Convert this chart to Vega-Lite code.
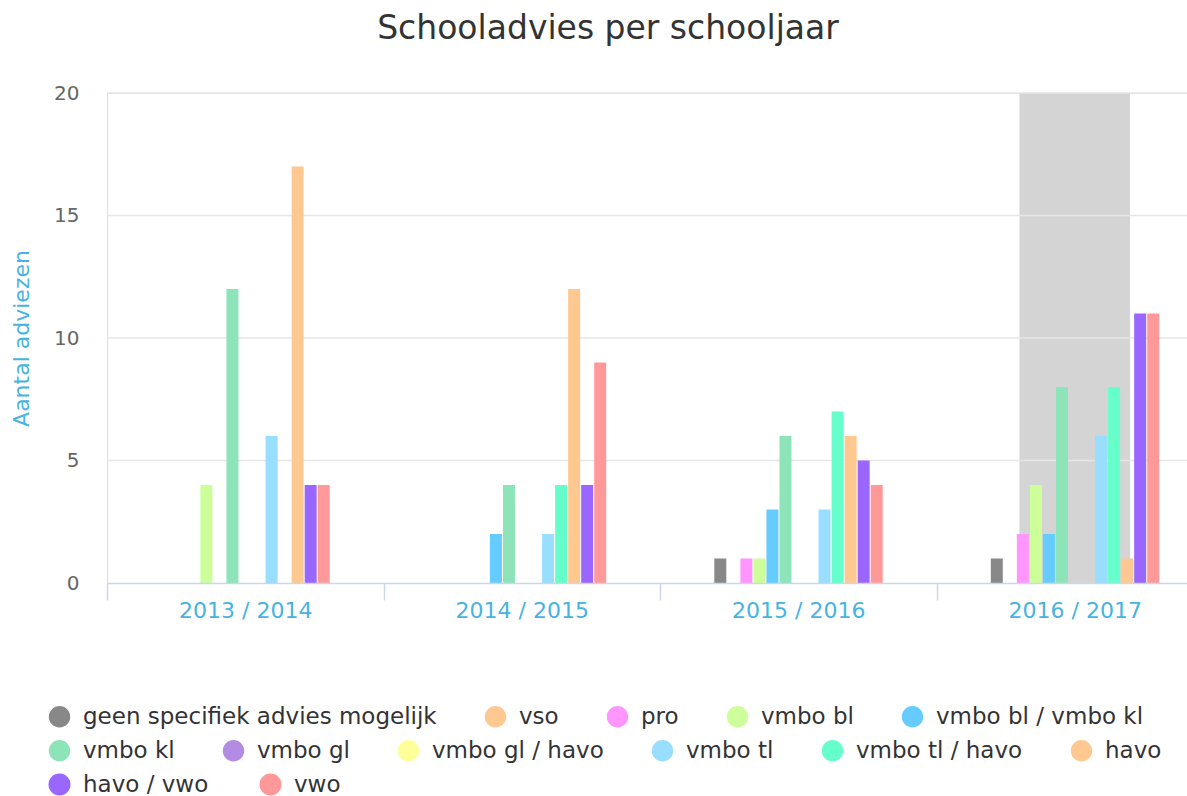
{
  "$schema": "https://vega.github.io/schema/vega-lite/v6.json",
  "autosize": "none",
  "width": 1080,
  "height": 490,
  "padding": {"left": 107, "top": 93, "right": 0, "bottom": 213},
  "background": "white",
  "config": {
    "legend": {
      "orient": "none",
      "direction": "horizontal",
      "title": null,
      "symbolType": "circle",
      "symbolSize": 460,
      "symbolStrokeWidth": 0,
      "labelFont": "DejaVu Sans",
      "labelFontSize": 23,
      "labelColor": "#333333",
      "labelOffset": 12,
      "labelLimit": 600,
      "columnPadding": 47
    }
  },
  "title": {
    "text": "Schooladvies per schooljaar",
    "font": "DejaVu Sans",
    "fontSize": 33,
    "fontWeight": "normal",
    "color": "#333333",
    "anchor": "middle",
    "offset": 37,
    "dx": -39
  },
  "datasets": {
    "band": [{"schooljaar": "2016 / 2017", "aantal": 0, "tot": 20}],
    "grid": [{"aantal": 5}, {"aantal": 10}, {"aantal": 15}, {"aantal": 20}],
    "advies": [
      {"schooljaar": "2013 / 2014", "advies": "vmbo bl", "aantal": 4},
      {"schooljaar": "2013 / 2014", "advies": "vmbo kl", "aantal": 12},
      {"schooljaar": "2013 / 2014", "advies": "vmbo tl", "aantal": 6},
      {"schooljaar": "2013 / 2014", "advies": "havo", "aantal": 17},
      {"schooljaar": "2013 / 2014", "advies": "havo / vwo", "aantal": 4},
      {"schooljaar": "2013 / 2014", "advies": "vwo", "aantal": 4},
      {"schooljaar": "2014 / 2015", "advies": "vmbo bl / vmbo kl", "aantal": 2},
      {"schooljaar": "2014 / 2015", "advies": "vmbo kl", "aantal": 4},
      {"schooljaar": "2014 / 2015", "advies": "vmbo tl", "aantal": 2},
      {"schooljaar": "2014 / 2015", "advies": "vmbo tl / havo", "aantal": 4},
      {"schooljaar": "2014 / 2015", "advies": "havo", "aantal": 12},
      {"schooljaar": "2014 / 2015", "advies": "havo / vwo", "aantal": 4},
      {"schooljaar": "2014 / 2015", "advies": "vwo", "aantal": 9},
      {"schooljaar": "2015 / 2016", "advies": "geen specifiek advies mogelijk", "aantal": 1},
      {"schooljaar": "2015 / 2016", "advies": "pro", "aantal": 1},
      {"schooljaar": "2015 / 2016", "advies": "vmbo bl", "aantal": 1},
      {"schooljaar": "2015 / 2016", "advies": "vmbo bl / vmbo kl", "aantal": 3},
      {"schooljaar": "2015 / 2016", "advies": "vmbo kl", "aantal": 6},
      {"schooljaar": "2015 / 2016", "advies": "vmbo tl", "aantal": 3},
      {"schooljaar": "2015 / 2016", "advies": "vmbo tl / havo", "aantal": 7},
      {"schooljaar": "2015 / 2016", "advies": "havo", "aantal": 6},
      {"schooljaar": "2015 / 2016", "advies": "havo / vwo", "aantal": 5},
      {"schooljaar": "2015 / 2016", "advies": "vwo", "aantal": 4},
      {"schooljaar": "2016 / 2017", "advies": "geen specifiek advies mogelijk", "aantal": 1},
      {"schooljaar": "2016 / 2017", "advies": "pro", "aantal": 2},
      {"schooljaar": "2016 / 2017", "advies": "vmbo bl", "aantal": 4},
      {"schooljaar": "2016 / 2017", "advies": "vmbo bl / vmbo kl", "aantal": 2},
      {"schooljaar": "2016 / 2017", "advies": "vmbo kl", "aantal": 8},
      {"schooljaar": "2016 / 2017", "advies": "vmbo tl", "aantal": 6},
      {"schooljaar": "2016 / 2017", "advies": "vmbo tl / havo", "aantal": 8},
      {"schooljaar": "2016 / 2017", "advies": "havo", "aantal": 1},
      {"schooljaar": "2016 / 2017", "advies": "havo / vwo", "aantal": 11},
      {"schooljaar": "2016 / 2017", "advies": "vwo", "aantal": 11}
    ]
  },
  "encoding": {
    "y": {
      "field": "aantal",
      "type": "quantitative",
      "stack": null,
      "scale": {"domain": [0, 20], "nice": false},
      "axis": {
        "values": [0, 5, 10, 15, 20],
        "grid": false,
        "domain": false,
        "ticks": false,
        "labelColor": "#666666",
        "labelFont": "DejaVu Sans",
        "labelFontSize": 20,
        "labelPadding": 28,
        "title": "Aantal adviezen",
        "titleColor": "#47b3e0",
        "titleFont": "DejaVu Sans",
        "titleFontSize": 22,
        "titleFontWeight": "normal",
        "titlePadding": 20
      }
    }
  },
  "layer": [
    {
      "data": {"name": "band"},
      "mark": {"type": "bar", "color": "#d4d4d4", "width": {"band": 0.4}},
      "encoding": {
        "x": {
          "field": "schooljaar",
          "type": "nominal",
          "scale": {"domain": ["2013 / 2014", "2014 / 2015", "2015 / 2016", "2016 / 2017"], "paddingInner": 0, "paddingOuter": 0, "range": [0, 1106]},
          "axis": {
            "title": null,
            "labelAngle": 0,
            "labelColor": "#47b3e0",
            "labelFont": "DejaVu Sans",
            "labelFontSize": 22,
            "labelPadding": 0,
            "domainColor": "#ccd6eb",
            "domainWidth": 1.5,
            "tickColor": "#ccd6eb",
            "tickWidth": 1.5,
            "tickSize": 17,
            "tickBand": "extent",
            "zindex": 1
          }
        },
        "y2": {"field": "tot"}
      }
    },
    {
      "data": {"name": "grid"},
      "mark": {"type": "rule", "color": "#e6e6e6", "strokeWidth": 1.5},
      "encoding": {}
    },
    {
      "data": {"name": "advies"},
      "mark": {"type": "bar"},
      "encoding": {
        "x": {
          "field": "schooljaar",
          "type": "nominal",
          "scale": {"domain": ["2013 / 2014", "2014 / 2015", "2015 / 2016", "2016 / 2017"], "paddingInner": 0, "paddingOuter": 0, "range": [0, 1106]},
          "axis": {
            "title": null,
            "labelAngle": 0,
            "labelColor": "#47b3e0",
            "labelFont": "DejaVu Sans",
            "labelFontSize": 22,
            "labelPadding": 0,
            "domainColor": "#ccd6eb",
            "domainWidth": 1.5,
            "tickColor": "#ccd6eb",
            "tickWidth": 1.5,
            "tickSize": 17,
            "tickBand": "extent",
            "zindex": 1
          }
        },
        "xOffset": {
          "field": "advies",
          "type": "nominal",
          "scale": {
            "domain": ["geen specifiek advies mogelijk", "vso", "pro", "vmbo bl", "vmbo bl / vmbo kl", "vmbo kl", "vmbo gl", "vmbo gl / havo", "vmbo tl", "vmbo tl / havo", "havo", "havo / vwo", "vwo"],
            "paddingInner": 0.08,
            "paddingOuter": 0,
            "range": [54.3, 222.7]
          }
        },
        "color": {
          "field": "advies",
          "type": "nominal",
          "scale": {
            "domain": ["geen specifiek advies mogelijk", "vso", "pro", "vmbo bl", "vmbo bl / vmbo kl", "vmbo kl", "vmbo gl", "vmbo gl / havo", "vmbo tl", "vmbo tl / havo", "havo", "havo / vwo", "vwo"],
            "range": ["#888888", "#ffc891", "#ff95ff", "#ccff99", "#66ccff", "#8ce4b8", "#b38be3", "#ffff99", "#99ddff", "#66ffcc", "#ffc891", "#9966ff", "#ff9999"]
          },
          "legend": {
            "values": ["geen specifiek advies mogelijk", "vso", "pro", "vmbo bl", "vmbo bl / vmbo kl"],
            "legendX": -59,
            "legendY": 612
          }
        }
      }
    },
    {
      "data": {"values": []},
      "mark": {"type": "circle", "opacity": 1},
      "encoding": {
        "fill": {
          "field": "advies",
          "type": "nominal",
          "scale": {
            "domain": ["vmbo kl", "vmbo gl", "vmbo gl / havo", "vmbo tl", "vmbo tl / havo", "havo"],
            "range": ["#8ce4b8", "#b38be3", "#ffff99", "#99ddff", "#66ffcc", "#ffc891"]
          },
          "legend": {"legendX": -59, "legendY": 646}
        }
      }
    },
    {
      "data": {"values": []},
      "mark": {"type": "point", "filled": false, "opacity": 1},
      "encoding": {
        "stroke": {
          "field": "advies",
          "type": "nominal",
          "scale": {
            "domain": ["havo / vwo", "vwo"],
            "range": ["#9966ff", "#ff9999"]
          },
          "legend": {
            "legendX": -59,
            "legendY": 680,
            "symbolSize": 121,
            "symbolStrokeWidth": 11,
            "labelOffset": 12,
            "columnPadding": 34
          }
        }
      }
    }
  ]
}
